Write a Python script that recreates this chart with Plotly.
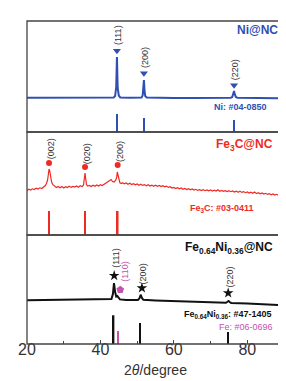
import plotly.graph_objects as go

# ---------------- data (2theta in degree, intensity in a.u.) ----------------
ni_x = [20, 25, 30, 35, 40, 43.6, 44.0, 44.3, 44.5, 44.7, 45.0, 45.4, 48, 51.2, 51.5, 51.7, 51.85, 52.0, 52.2, 52.6,
        56, 60, 65, 70, 75.5, 75.9, 76.2, 76.4, 76.6, 76.9, 77.3, 80, 85, 90]
ni_y = [34.2, 34.1, 34.2, 34.0, 34.1, 34.4, 36, 45, 75, 44, 36.5, 34.6, 34.2, 34.5, 36.5, 43, 52, 42, 36, 34.5,
        34.1, 34.0, 34.1, 33.9, 34.2, 35.0, 37.5, 41, 37.5, 35.0, 34.2, 34.0, 33.9, 33.8]
ni_peaks = [44.5, 51.85, 76.4]
ni_marker_y = [81.3, 58.7, 46.7]
ni_labels = ["(111)", "(200)", "(220)"]
ni_label_y = [97, 74, 62]
ni_ref_x = [44.5, 51.85, 76.35]
ni_ref_h = [18, 14, 12]

fe3c_x = [20, 20.5, 21, 21.5, 22, 22.5, 23, 23.5, 24, 24.5, 25, 25.3, 25.6, 25.8, 26.0, 26.2, 26.4, 26.7, 27, 27.5,
          28, 28.5, 29, 29.5, 30, 30.5, 31, 31.5, 32, 32.5, 33, 33.5, 34, 34.5, 35, 35.4, 35.6, 35.8, 36.0, 36.2,
          36.5, 37, 37.5, 38, 38.5, 39, 39.5, 40, 40.5, 41, 41.5, 42, 42.5, 42.9, 43.3, 43.7, 44.1, 44.4, 44.6, 44.8,
          45.0, 45.3, 45.7, 46, 46.5, 47, 47.5, 48, 48.5, 49, 49.5, 50, 50.5, 51, 51.5, 52, 52.5, 53, 53.5, 54,
          54.5, 55, 55.5, 56, 56.5, 57, 57.5, 58, 58.5, 59, 59.5, 60, 60.5, 61, 61.5, 62, 62.5, 63, 63.5, 64,
          64.5, 65, 65.5, 66, 66.5, 67, 67.5, 68, 68.5, 69, 69.5, 70, 70.5, 71, 71.5, 72, 72.5, 73, 73.5, 74,
          74.5, 75, 75.5, 76, 76.5, 77, 77.5, 78, 78.5, 79, 79.5, 80, 80.5, 81, 81.5, 82, 82.5, 83, 83.5, 84,
          84.5, 85, 85.5, 86, 86.5, 87, 87.5, 88, 88.5, 89, 89.5, 90]
fe3c_y = [44.5, 45.8, 44.9, 46.2, 45.5, 46.8, 45.9, 47.2, 46.5, 48.0, 49.5, 51.5, 55, 60, 66, 64, 58, 53, 50.5, 48.8,
          47.5, 48.6, 47.2, 48.4, 47.0, 48.3, 47.4, 48.8, 47.6, 48.5, 47.9, 49.0, 47.8, 49.2, 48.4, 50, 55, 62, 56, 50.5,
          48.9, 49.6, 48.5, 49.8, 48.7, 50.1, 49.0, 50.3, 49.5, 50.8, 51.5, 52.6, 54.5, 55.5, 53.5, 53.0, 54.5, 57, 63, 60,
          54, 52.2, 51.5, 52.3, 51.2, 52.0, 50.8, 51.7, 50.5, 51.3, 50.2, 51.0, 49.8, 50.7, 49.6, 50.4, 49.3, 50.2, 49.0, 49.9,
          48.8, 49.8, 48.7, 49.5, 48.4, 49.3, 48.2, 48.9, 47.6, 48.3, 46.9, 47.6, 46.5, 47.4, 46.2, 47.0, 45.8, 46.6, 45.5, 46.3,
          45.2, 46.0, 44.9, 45.7, 44.6, 45.4, 44.5, 45.3, 44.3, 45.1, 44.2, 45.0, 44.0, 44.9, 43.9, 45.2, 43.8, 44.6, 43.6, 44.4,
          43.5, 44.3, 43.3, 44.1, 43.0, 43.9, 42.8, 43.9, 42.6, 43.4, 42.3, 43.1, 42.0, 42.8, 41.8, 43.0, 41.4, 42.3, 41.2, 42.0,
          40.9, 41.7, 40.6, 41.4, 40.2, 41.0, 39.9, 40.7, 39.6, 40.2, 39.0, 39.5]
fe3c_peaks = [26.0, 35.8, 44.7]
fe3c_marker_y = [72, 68, 70]
fe3c_labels = ["(002)", "(020)", "(200)"]
fe3c_label_y = [86, 81, 84]
fe3c_ref_x = [26.0, 35.8, 44.7]
fe3c_ref_h = [24, 24, 24]

feni_x = [20, 25, 30, 35, 38, 40, 42, 43.0, 43.4, 43.7, 44.0, 44.3, 44.6, 44.9, 45.3, 47, 50.2, 50.6, 51.0, 51.3,
          51.7, 55, 60, 65, 70, 74.2, 74.6, 74.9, 75.2, 75.6, 80, 85, 90]
feni_y = [43.7, 44.0, 44.2, 44.3, 44.2, 44.3, 44.5, 45, 50, 61, 52, 47.5, 48, 46.5, 44.6, 44.0, 44.0, 45.5, 49.3, 46,
          44.2, 43.6, 43.1, 42.8, 41.9, 41.2, 42.2, 43, 42.0, 41.1, 40.6, 39.8, 38.7]
feni_peaks = [43.75, 51.3, 74.8]
feni_marker_y = [68.3, 56, 51]
feni_labels = ["(111)", "(200)", "(220)"]
feni_label_x = [44.2, 51.7, 75.4]
feni_label_y = [86, 70, 67]
fe_peak = [45.4]
fe_marker_y = [54.3]
fe_label = ["(110)"]
fe_label_x = [46.6]
fe_label_y = [72]
feni_ref_x = [43.6, 50.85, 74.7]
feni_ref_h = [28.7, 21, 12]
fe_ref_x = [44.8]
fe_ref_h = [13]

x_ticks = [20, 40, 60, 80]

# ---------------- styling ----------------
BLUE = "#2f4fb3"
RED = "#ee2a24"
BLACK = "#111111"
MAG = "#c552ae"
GRAY = "#333333"
FONT = "Arial, Liberation Sans, sans-serif"

H1, H2, H3 = 111, 103, 109
TOT = H1 + H2 + H3
d3 = [0, H3 / TOT]
d2 = [H3 / TOT, (H3 + H2) / TOT]
d1 = [(H3 + H2) / TOT, 1]

fig = go.Figure()

# Panel 1: Ni@NC
fig.add_trace(go.Scatter(x=ni_x, y=ni_y, mode="lines", line=dict(color=BLUE, width=2), xaxis="x", yaxis="y"))
fig.add_trace(go.Scatter(x=ni_peaks, y=ni_marker_y, mode="markers",
                         marker=dict(symbol="triangle-down", size=7, color=BLUE), xaxis="x", yaxis="y"))
fig.add_trace(go.Bar(x=ni_ref_x, y=ni_ref_h, width=0.4, marker=dict(color=BLUE, line=dict(width=0)),
                     xaxis="x", yaxis="y"))

# Panel 2: Fe3C@NC
fig.add_trace(go.Scatter(x=fe3c_x, y=fe3c_y, mode="lines", line=dict(color=RED, width=1.2), xaxis="x", yaxis="y2"))
fig.add_trace(go.Scatter(x=fe3c_peaks, y=fe3c_marker_y, mode="markers",
                         marker=dict(symbol="circle", size=6, color=RED), xaxis="x", yaxis="y2"))
fig.add_trace(go.Bar(x=fe3c_ref_x, y=fe3c_ref_h, width=0.45, marker=dict(color=RED, line=dict(width=0)),
                     xaxis="x", yaxis="y2"))

# Panel 3: Fe0.64Ni0.36@NC
fig.add_trace(go.Scatter(x=feni_x, y=feni_y, mode="lines", line=dict(color=BLACK, width=2), xaxis="x", yaxis="y3"))
fig.add_trace(go.Scatter(x=feni_peaks, y=feni_marker_y, mode="markers",
                         marker=dict(symbol="star", size=8, color=BLACK), xaxis="x", yaxis="y3"))
fig.add_trace(go.Scatter(x=fe_peak, y=fe_marker_y, mode="markers",
                         marker=dict(symbol="pentagon", size=8, color=MAG), xaxis="x", yaxis="y3"))
fig.add_trace(go.Bar(x=feni_ref_x, y=feni_ref_h, width=0.4, marker=dict(color=BLACK, line=dict(width=0)),
                     xaxis="x", yaxis="y3"))
fig.add_trace(go.Bar(x=fe_ref_x, y=fe_ref_h, width=0.4, marker=dict(color=MAG, line=dict(width=0)),
                     xaxis="x", yaxis="y3"))

ann = []
def peak_labels(xs, ys, texts, yref, color=GRAY):
    for xv, yv, t in zip(xs, ys, texts):
        ann.append(dict(x=xv, y=yv, xref="x", yref=yref, text=t, textangle=-90, showarrow=False,
                        font=dict(size=9, color=color, family=FONT), xanchor="center", yanchor="middle"))

peak_labels([p + 0.3 for p in ni_peaks], ni_label_y, ni_labels, "y")
peak_labels([p + 0.6 for p in fe3c_peaks], fe3c_label_y, fe3c_labels, "y2")
peak_labels(feni_label_x, feni_label_y, feni_labels, "y3")
peak_labels(fe_label_x, fe_label_y, fe_label, "y3", color=MAG)

def txt(xp, yv, yref, text, size, color, bold=True):
    t = f"<b>{text}</b>" if bold else text
    ann.append(dict(x=xp, y=yv, xref="paper", yref=yref, text=t, showarrow=False,
                    font=dict(size=size, color=color, family=FONT), xanchor="right", yanchor="middle"))

txt(0.984, 102, "y", "Ni@NC", 12, BLUE)
txt(0.94, 24.7, "y", "Ni: #04-0850", 9, BLUE)
txt(0.966, 90, "y2", "Fe<sub>3</sub>C@NC", 12, RED)
txt(0.89, 27, "y2", "Fe<sub>3</sub>C: #03-0411", 9, RED)
txt(0.965, 96, "y3", "Fe<sub>0.64</sub>Ni<sub>0.36</sub>@NC", 12, BLACK)
txt(0.962, 30, "y3", "Fe<sub>0.64</sub>Ni<sub>0.36</sub>: #47-1405", 9, BLACK)
txt(0.965, 17, "y3", "Fe: #06-0696", 9, MAG, bold=False)

shapes = []
for dom in (d1, d2, d3):
    shapes.append(dict(type="rect", xref="paper", yref="paper", x0=0, x1=1, y0=dom[0], y1=dom[1],
                       line=dict(color="#444444", width=1.3), fillcolor="rgba(0,0,0,0)"))

yax = dict(showgrid=False, zeroline=False, showticklabels=False, ticks="", fixedrange=True)
fig.update_layout(
    width=286, height=381,
    margin=dict(l=10, r=10, t=13, b=45),
    paper_bgcolor="white", plot_bgcolor="white",
    showlegend=False, barmode="overlay",
    font=dict(family=FONT, color=GRAY),
    xaxis=dict(range=[20, 90], anchor="y3", tickvals=x_ticks, ticks="inside", ticklen=4, tickwidth=1,
               tickcolor="#444444", showgrid=False, zeroline=False, ticklabelstandoff=-6,
               minor=dict(tickvals=[30, 50, 70], ticks="inside", ticklen=3, tickcolor="#444444"),
               tickfont=dict(size=16, color=GRAY, family=FONT),
               title=dict(text="2<i>θ</i>/degree", font=dict(size=14, color=GRAY, family=FONT), standoff=8)),
    yaxis=dict(domain=d1, range=[0, H1], **yax),
    yaxis2=dict(domain=d2, range=[0, H2], **yax),
    yaxis3=dict(domain=d3, range=[0, H3], **yax),
    annotations=ann, shapes=shapes,
)

fig.write_html("out.html")
